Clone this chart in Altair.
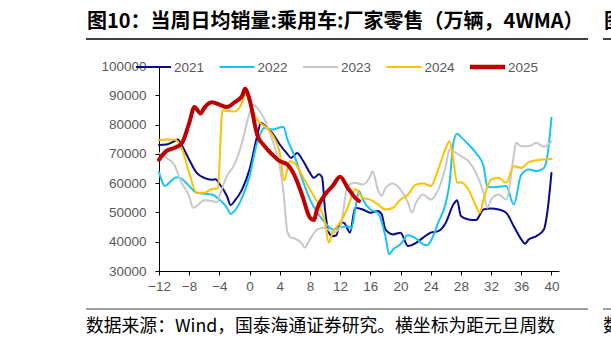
import altair as alt
import pandas as pd

# ---- data ----
series_names = ["2021", "2022", "2023", "2024", "2025"]
series_colors = ["#0A0A8C", "#19C3F5", "#C8C8C8", "#FFC000", "#C00000"]
series_widths = [2, 2, 2, 2, 4]

w2021 = [-12, -11, -10, -9.5, -9, -8, -7, -6, -5, -4.5, -4, -3, -2.5, -2, -1, 0, 1, 1.5, 2, 3, 4, 5, 5.5, 6.3, 7, 8,
         8.5, 9.2, 9.6, 10, 10.5, 11, 11.5, 12, 12.5, 13, 13.3, 14, 15, 16, 17, 17.5, 18, 19, 20, 21, 22, 23, 24, 25,
         26, 27, 27.5, 28, 29, 30, 31, 32, 33, 34, 35, 36, 36.5, 37, 38, 39, 39.5, 40]
v2021 = [73000, 73200, 74300, 74900, 73000, 68000, 63500, 61800, 61200, 61300, 59800, 55600, 52500, 53900, 57800,
         64700, 76000, 80600, 79700, 77200, 73200, 70000, 68600, 70300, 68000, 63500, 61800, 63000, 62000, 51000,
         43100, 41900, 42200, 46500, 46500, 44200, 43100, 51600, 51000, 49900, 50500, 49400, 44200, 42500, 43100,
         38500, 39500, 41400, 43100, 43600, 46500, 52700, 54200, 48800, 47600, 47400, 51000, 51300, 51000, 49900,
         45300, 40800, 39300, 40800, 41900, 44200, 51000, 63500]

w2022 = [-12, -11.2, -10.5, -9.7, -9, -8, -7, -6, -5, -4, -3, -2.5, -2, -1, 0, 1, 2, 3, 4, 4.5, 5, 6, 7, 8, 9, 10,
         11, 12, 13, 13.5, 14, 14.5, 15, 16, 17, 18, 18.5, 19, 20, 21, 22, 23, 23.5, 24, 25, 26, 26.5, 27, 27.5, 28,
         29, 30, 31, 31.5, 32, 33, 34, 35, 36, 37, 38, 39, 39.5, 40]
v2022 = [63800, 59000, 60500, 62000, 61500, 59000, 56700, 56400, 56100, 54400, 51600, 49500, 50500, 55000, 62400,
         73800, 78900, 78300, 79000, 79200, 75000, 69000, 61200, 54400, 49900, 46500, 44200, 44800, 45300, 44500,
         51000, 57300, 54400, 51000, 49900, 41900, 35700, 37400, 39100, 42200, 41200, 39100, 38800, 40200, 46500,
         53300, 60100, 73800, 76900, 75800, 73200, 70300, 65800, 59000, 58600, 58800, 59000, 52700, 62900, 64700,
         64100, 65200, 70000, 82300]

w2023 = [-12, -11, -10, -9, -8, -7.5, -7, -6, -5, -4.3, -4, -3, -2, -1, 0, 0.5, 1, 2, 3, 4, 4.5, 5, 5.5, 6, 7, 7.3,
         8, 9, 10, 11, 12, 13, 14, 15, 16, 16.3, 17, 17.5, 18, 19, 20, 21, 21.5, 22, 23, 24, 25, 26, 26.5, 27, 28,
         29, 30, 31, 31.5, 32, 33, 34, 35, 35.3, 36, 37, 38, 39, 40]
v2023 = [70300, 68600, 66400, 60100, 55600, 51600, 52200, 54200, 53900, 53500, 55600, 62400, 66400, 73800, 84000,
         86800, 85700, 81700, 74900, 65800, 56700, 43500, 41400, 41100, 39100, 38000, 40800, 44200, 44800, 43100,
         44800, 59000, 60100, 59500, 62400, 64100, 57800, 55600, 58400, 59900, 57800, 53300, 49900, 53000, 56100,
         54400, 57800, 65800, 71500, 70900, 69200, 67500, 63500, 56700, 51600, 54400, 56100, 54400, 69200, 73800,
         72600, 72600, 73800, 72400, 74300]

w2024 = [-12, -11, -10, -9, -8, -7, -6, -5, -4.2, -3.6, -3, -2, -1, -0.5, 0, 1, 2, 3, 4, 4.6, 5.3, 6, 7, 8, 9, 10,
         10.5, 11, 12, 13, 14, 15, 16, 17, 18, 19, 20, 21, 22, 23, 24, 25, 26, 26.5, 27, 27.5, 28, 29, 30, 30.5, 31,
         32, 33, 34, 35, 36, 37, 38, 39, 40]
v2024 = [74700, 74900, 74900, 72000, 63500, 56700, 56700, 58000, 58200, 85000, 84600, 84500, 87400, 91400, 87400,
         81700, 79400, 76600, 70300, 61000, 67500, 66700, 62400, 57800, 53300, 46500, 39700, 43100, 46500, 51600,
         58000, 55000, 54400, 52700, 51000, 51600, 54400, 56100, 59500, 59900, 59000, 64700, 72000, 74300, 68000,
         60100, 60300, 57800, 52200, 49900, 54400, 61200, 61800, 60100, 65800, 65200, 67200, 67800, 68100, 68300]

w2025 = [-12, -11, -10, -9, -8, -7.3, -6.5, -6, -5, -4, -3, -2, -1, -0.6, 0, 1, 2, 3, 4, 5, 6, 7, 8, 8.5, 9, 10, 11,
         12, 13, 14, 14.5]
v2025 = [68000, 71000, 72000, 73500, 80500, 86000, 83800, 85700, 87600, 86800, 86000, 87600, 89700, 92200, 88500,
         76600, 72600, 69800, 67500, 66400, 62400, 55600, 48200, 47400, 51600, 56100, 59000, 62200, 58400, 55000,
         53900]

x_ticks = list(range(-12, 41, 4))
y_ticks = list(range(30000, 100001, 10000))

title_text = "图10：当周日均销量:乘用车:厂家零售（万辆，4WMA）"
source_text = "数据来源：Wind，国泰海通证券研究。横坐标为距元旦周数"

# ---- build tables ----
rows = []
for name, ws, vs in zip(series_names, [w2021, w2022, w2023, w2024, w2025],
                        [v2021, v2022, v2023, v2024, v2025]):
    for w, v in zip(ws, vs):
        rows.append({"series": name, "week": w, "value": v})
df = pd.DataFrame(rows)
legend_df = pd.DataFrame({"series": series_names, "idx": list(range(len(series_names))),
                          "sw": series_widths})

W, H = 400, 205
LEFT, TOP = 159, 66

color_scale = alt.Scale(domain=series_names, range=series_colors)

x_enc = alt.X(
    "week:Q",
    scale=alt.Scale(domain=[-12, 41], nice=False, zero=False),
    axis=alt.Axis(values=x_ticks, title=None, grid=False, domainColor="#000000", tickColor="#000000",
                  tickSize=4, labelColor="#595959", labelFontSize=13.5, labelFont="Liberation Sans",
                  labelPadding=4, format="d", labelOverlap=False, labelFlush=False),
)
y_enc = alt.Y(
    "value:Q",
    scale=alt.Scale(domain=[30000, 100000], nice=False, zero=False),
    axis=alt.Axis(values=y_ticks, title=None, grid=False, domainColor="#000000", tickColor="#000000",
                  tickSize=4, labelColor="#595959", labelFontSize=13.5, labelFont="Liberation Sans",
                  labelPadding=9, format="d", labelOverlap=False, labelFlush=False),
)

layers = []
for name, sw in zip(series_names, series_widths):
    layers.append(
        alt.Chart(df).transform_filter(alt.datum.series == name).mark_line(
            interpolate="monotone", strokeCap="round", strokeJoin="round", strokeWidth=sw
        ).encode(x=x_enc, y=y_enc, color=alt.Color("series:N", scale=color_scale, legend=None))
    )

# ---- legend (horizontal, top) ----
LEG_X0, LEG_STEP, LEG_SYM, LEG_Y = -23, 83.5, 35, 1
leg_base = alt.Chart(legend_df).transform_calculate(
    lx=f"{LEG_X0} + datum.idx * {LEG_STEP}",
    lx2=f"{LEG_X0} + datum.idx * {LEG_STEP} + {LEG_SYM}",
    tx=f"{LEG_X0} + datum.idx * {LEG_STEP} + {LEG_SYM} + 3",
)
leg_thin = leg_base.transform_filter(alt.datum.sw < 3).mark_rule(strokeWidth=2).encode(
    x=alt.X("lx:Q", scale=None), x2="lx2:Q", y=alt.value(LEG_Y),
    color=alt.Color("series:N", scale=color_scale, legend=None))
leg_thick = leg_base.transform_filter(alt.datum.sw >= 3).mark_rule(strokeWidth=4.5).encode(
    x=alt.X("lx:Q", scale=None), x2="lx2:Q", y=alt.value(LEG_Y),
    color=alt.Color("series:N", scale=color_scale, legend=None))
leg_text = leg_base.mark_text(
    align="left", baseline="middle", font="Liberation Sans", fontSize=13.5, color="#595959"
).encode(x=alt.X("tx:Q", scale=None), y=alt.value(LEG_Y + 0.5), text="series:N")

one = pd.DataFrame({"k": [0]})
title_mark = alt.Chart(one).mark_text(
    align="left", baseline="alphabetic", font="Noto Sans CJK SC", fontWeight="bold", fontSize=20,
    color="#000000"
).encode(x=alt.value(87 - LEFT), y=alt.value(28 - TOP), text=alt.value(title_text))
title_rule = alt.Chart(one).mark_rule(color="#000000", strokeWidth=1.5).encode(
    x=alt.value(86 - LEFT), x2=alt.value(588 - LEFT), y=alt.value(39 - TOP))
title_rule2 = alt.Chart(one).mark_rule(color="#000000", strokeWidth=1.5).encode(
    x=alt.value(603 - LEFT), x2=alt.value(640 - LEFT), y=alt.value(39 - TOP))
title_frag = alt.Chart(one).mark_text(
    align="left", baseline="alphabetic", font="Noto Sans CJK SC", fontWeight="bold", fontSize=20,
    color="#000000"
).encode(x=alt.value(604 - LEFT), y=alt.value(28 - TOP), text=alt.value("图"))

source_rule = alt.Chart(one).mark_rule(color="#808080", strokeWidth=1.5).encode(
    x=alt.value(86 - LEFT), x2=alt.value(588 - LEFT), y=alt.value(309 - TOP))
source_rule2 = alt.Chart(one).mark_rule(color="#808080", strokeWidth=1.5).encode(
    x=alt.value(603 - LEFT), x2=alt.value(640 - LEFT), y=alt.value(309 - TOP))
source_mark = alt.Chart(one).mark_text(
    align="left", baseline="alphabetic", font="Noto Sans CJK SC", fontSize=17.8, color="#000000"
).encode(x=alt.value(86 - LEFT), y=alt.value(332 - TOP), text=alt.value(source_text))
source_frag = alt.Chart(one).mark_text(
    align="left", baseline="alphabetic", font="Noto Sans CJK SC", fontSize=17.8, color="#000000"
).encode(x=alt.value(603 - LEFT), y=alt.value(332 - TOP), text=alt.value("数"))

chart = alt.layer(
    *layers, leg_thin, leg_thick, leg_text,
    title_mark, title_rule, title_rule2, title_frag, source_rule, source_rule2, source_mark, source_frag
).resolve_scale(color="shared").properties(
    width=W, height=H,
    autosize=alt.AutoSizeParams(type="none"),
    padding={"left": LEFT, "top": TOP, "right": 611 - LEFT - W, "bottom": 340 - TOP - H},
    background="#FFFFFF",
).configure_view(stroke=None)

chart.save("out.html", embed_options={"renderer": "svg", "actions": False})
